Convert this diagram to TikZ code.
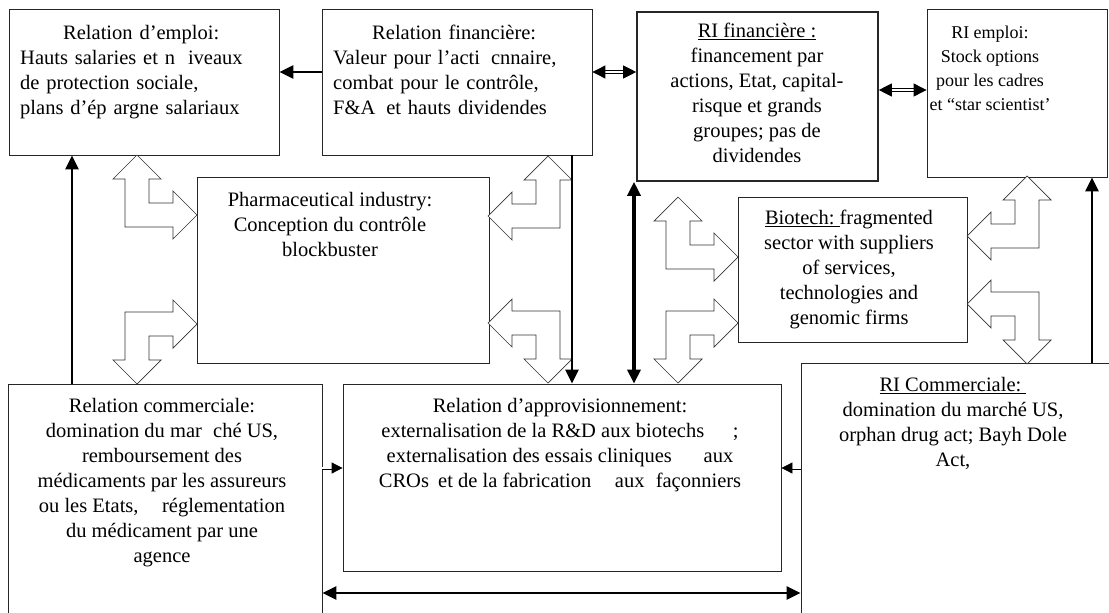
\documentclass[tikz,border=0pt]{standalone}
\usepackage{fontspec}
\setmainfont{Liberation Serif}
\usetikzlibrary{arrows.meta}
\tikzset{
  box/.style={draw=black!85, line width=0.8pt, inner sep=0pt},
  txt/.style={inner sep=0pt, font=\fontsize{20.5}{25}\selectfont},
  blockarrow/.style={draw=black!80, fill=white, line width=0.7pt},
  thickarrow/.style={line width=2.6pt, -{Triangle[length=14pt,width=13pt]}},
  thickboth/.style={line width=2.6pt, {Triangle[length=14pt,width=13pt]}-{Triangle[length=14pt,width=13pt]}},
  smallboth/.style={double, line width=0.9pt, double distance=1.6pt, {Triangle[length=13pt,width=13pt]}-{Triangle[length=13pt,width=13pt]}},
  smallarrow/.style={double, line width=0.8pt, double distance=1.4pt, -{Triangle[length=11pt,width=11pt]}},
}
% bent hollow arrow: #1 position, #2 xscale, #3 yscale
\newcommand{\bentarrow}[3]{%
  \begin{scope}[shift={#1}, xscale=#2, yscale=#3]
    \draw[blockarrow] (-12,-36) -- (-12,12) -- (36,12) -- (36,24) -- (60,0) -- (36,-24) -- (36,-12)
      -- (12,-12) -- (12,-36) -- (24,-36) -- (0,-60) -- (-24,-36) -- cycle;
  \end{scope}}
\begin{document}
\begin{tikzpicture}[x=1pt,y=-1pt]
\useasboundingbox (0,0) rectangle (1109,613);
% boxes
\node[box, minimum width=270pt, minimum height=146pt] (emp) at (144,82) {};
\node[box, minimum width=270pt, minimum height=146pt] (fin) at (457,82) {};
\node[box, line width=1.6pt, minimum width=241pt, minimum height=169pt] (rifin) at (757.5,96.5) {};
\node[box, minimum width=180pt, minimum height=168pt] (riemp) at (1017,93) {};
\node[box, minimum width=292pt, minimum height=186pt] (pharma) at (343,270) {};
\node[box, minimum width=229pt, minimum height=145pt] (bio) at (852.5,269.5) {};
\node[box, minimum width=314pt, minimum height=236pt] (comm) at (165,502) {};
\node[box, minimum width=438pt, minimum height=187pt] (appro) at (562,477.5) {};
\node[box, minimum width=319pt, minimum height=257pt] (ricomm) at (960.5,491.5) {};
% texts
\node[txt, anchor=north west, text width=242pt, align=left] (empT) at (20,25)
  {\makebox[242pt]{Relation d'emploi:}\\ Hauts salaries et n\hspace{0.3em} iveaux\\ de protection sociale,\\ plans d'ép argne salariaux};
\node[txt, anchor=north west, text width=242pt, align=left] (finT) at (333,25)
  {\makebox[242pt]{Relation financière:}\\ Valeur pour l'acti\hspace{0.2em} cnnaire,\\ combat pour le contrôle,\\ F\&A\hspace{0.2em} et hauts dividendes};
\node[txt, anchor=north, align=center] (rifinT) at (757,23)
  {\underline{RI financière :}\\ financement par\\ actions, Etat, capital-\\ risque et grands\\ groupes; pas de\\ dividendes};
\node[txt, anchor=north, align=center, font=\fontsize{18}{24}\selectfont] (riempT) at (990,26)
  {RI emploi:\\ Stock options\\ pour les cadres\\ et ``star scientist'};
\node[txt, anchor=north, align=center] (pharmaT) at (330,192)
  {Pharmaceutical industry:\\ Conception du contrôle\\ blockbuster};
\node[txt, anchor=north, align=center] (bioT) at (849,210)
  {\underline{Biotech:\ }fragmented\\ sector with suppliers\\ of services,\\ technologies and\\ genomic firms};
\node[txt, anchor=north, align=center] (commT) at (162,398)
  {Relation commerciale:\\ domination du mar\hspace{0.3em} ché US,\\ remboursement des\\ médicaments par les assureurs\\ ou les Etats,\hspace{0.9em} réglementation\\ du médicament par une\\ agence};
\node[txt, anchor=north, align=center] (approT) at (560,398)
  {Relation d'approvisionnement:\\ externalisation de la R\&D aux biotechs\hspace{1.4em};\\ externalisation des essais cliniques\hspace{1.3em} aux\\ CROs\hspace{0.2em} et de la fabrication\hspace{0.9em} aux\hspace{0.3em} façonniers};
\node[txt, anchor=north, align=center] (ricommT) at (953,377)
  {\underline{RI Commerciale:\ }\\ domination du marché US,\\ orphan drug act; Bayh Dole\\ Act,};
% hollow bent arrows
\bentarrow{(137,215)}{1}{1}
\bentarrow{(137,324)}{1}{-1}
\bentarrow{(548,216)}{-1}{1}
\bentarrow{(548,323)}{-1}{-1}
\bentarrow{(678,257)}{1}{1}
\bentarrow{(678,323)}{1}{-1}
\bentarrow{(1027,236)}{-1}{1}
\bentarrow{(1027,304)}{-1}{-1}
% connectors
\draw[thickarrow] ([yshift=10pt]fin.west) -- ([yshift=10pt]emp.east);
\draw[smallboth] (fin.east |- 0,72) -- (rifin.west |- 0,72);
\draw[smallboth] (rifin.east |- 0,90) -- (riemp.west |- 0,90);
\draw[thickarrow] (comm.north -| 72,0) -- (emp.south -| 72,0);
\draw[thickarrow] (fin.south -| 572,0) -- (appro.north -| 572,0);
\draw[thickboth, line width=3.4pt] (appro.north -| 634,0) -- (rifin.south -| 634,0);
\draw[thickarrow] (ricomm.north -| 1092,0) -- (riemp.south -| 1092,0);
\draw[smallarrow] (comm.east |- 0,468) -- (appro.west |- 0,468);
\draw[smallarrow] (ricomm.west |- 0,468) -- (appro.east |- 0,468);
\draw[thickboth] (comm.east |- 0,593) -- (ricomm.west |- 0,593);
\end{tikzpicture}
\end{document}
